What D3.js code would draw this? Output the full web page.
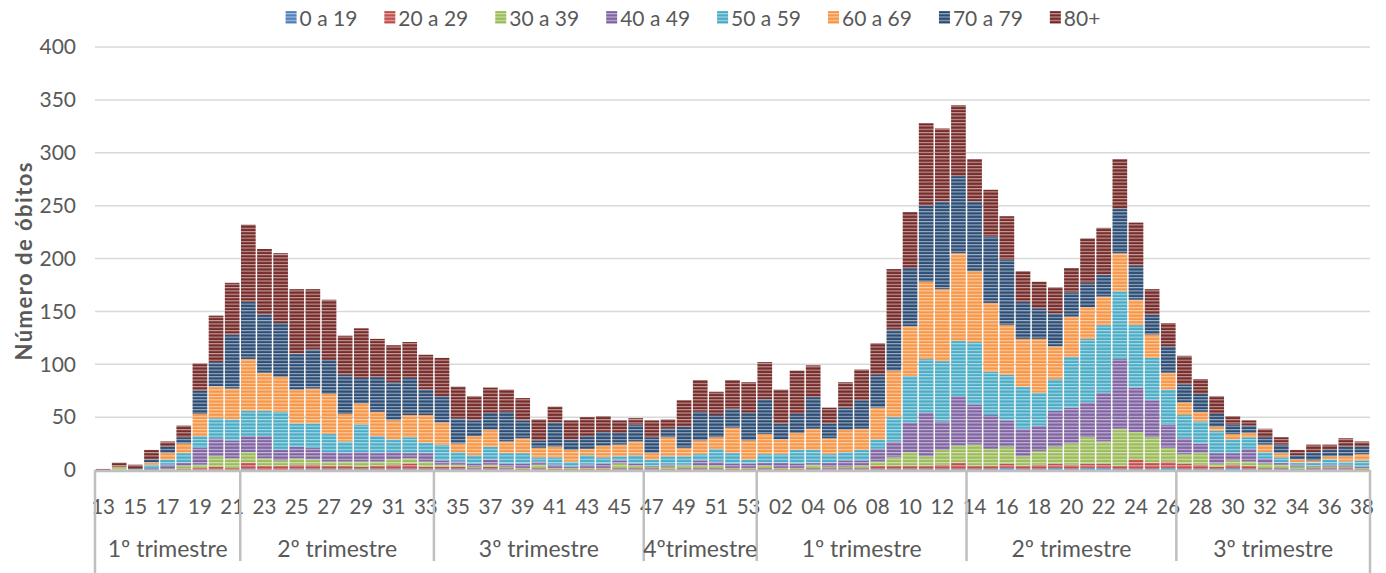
<!DOCTYPE html>
<html>
<head>
<meta charset="utf-8">
<script src="https://cdn.jsdelivr.net/npm/d3@7.9.0/dist/d3.min.js"></script>
<style>
  body { margin: 0; background: #fff; }
  svg { display: block; font-family: Lato, "Open Sans", sans-serif; }
</style>
</head>
<body>
<svg id="chart" width="1386" height="573"></svg>
<script>
// week categories (2020: 13..53, 2021: 01..38)
const weeks = ['13','14','15','16','17','18','19','20','21','22','23','24','25','26','27','28','29','30','31','32',
  '33','34','35','36','37','38','39','40','41','42','43','44','45','46','47','48','49','50','51','52','53',
  '01','02','03','04','05','06','07','08','09','10','11','12','13','14','15','16','17','18','19','20',
  '21','22','23','24','25','26','27','28','29','30','31','32','33','34','35','36','37','38'];

const quarterLabels = ['1º trimestre', '2º trimestre', '3º trimestre', '4ºtrimestre', '1º trimestre', '2º trimestre', '3º trimestre'];
const quarterSizes = [9, 12, 13, 7, 13, 13, 12];

const ageGroups = ['0 a 19', '20 a 29', '30 a 39', '40 a 49', '50 a 59', '60 a 69', '70 a 79', '80+'];
const colors = ['#4F81BD', '#C0504D', '#9BBB59', '#8064A2', '#4BACC6', '#F79646', '#2C4D75', '#772C2A'];

const age0to19 = [0,0,0,1,0,0,0,0,0,1, 0,0,1,1,1,1,1,1,1,1, 1,1,1,1,1,1,0,1,0,0, 0,0,1,1,1,0,1,1,1,0,
  0,1,0,0,1,1,1,1,1,1, 1,1,1,1,1,1,2,1,1,2, 1,2,2,1,1,1,2,1,1,1, 2,1,1,1,1,1,1,1,0];
const age20to29 = [0,0,0,0,0,1,2,3,2,6, 4,4,4,4,3,3,2,3,4,5, 2,2,2,1,2,1,1,1,1,1, 1,1,1,1,1,1,1,1,1,1,
  1,1,1,1,1,1,1,1,3,3, 3,3,4,6,3,3,4,3,4,4, 4,4,4,3,9,6,6,5,4,2, 3,3,1,1,0,1,1,1,1];
const age30to39 = [0,2,0,0,1,3,3,10,9,10, 7,5,6,5,4,4,5,4,5,5, 5,2,2,1,2,1,1,3,1,1, 1,1,4,2,1,2,2,2,2,1,
  1,2,1,1,3,1,1,2,4,8, 13,9,14,16,20,16,16,9,13,16, 20,25,21,35,26,24,13,9,11,3, 4,4,4,3,2,1,1,1,1];
const age40to49 = [0,0,0,1,4,3,16,17,17,15, 21,10,11,11,9,8,9,8,7,5, 8,4,3,3,5,3,4,3,3,1, 3,4,3,2,1,2,1,5,4,4,
  4,3,5,4,2,4,6,5,12,15, 28,41,27,47,38,32,25,26,24,34, 34,33,46,66,42,35,22,15,9,10, 7,12,5,2,2,1,2,2,1];
const age50to59 = [0,0,1,3,5,9,11,19,20,24, 24,36,22,23,17,11,26,16,12,15, 10,15,9,8,12,10,10,4,7,5, 9,6,4,8,6,8,8,6,12,10,
  4,8,8,13,12,8,8,10,9,23, 44,51,57,52,59,41,43,40,31,30, 48,60,64,64,59,40,33,22,21,21, 13,11,6,5,2,3,5,3,6];
const age60to69 = [0,1,0,2,6,9,21,30,29,49, 36,33,32,33,38,26,20,23,18,21, 26,21,8,18,16,11,14,9,10,11, 6,11,11,13,6,18,8,13,11,24,
  18,19,14,16,20,15,21,20,30,44, 47,73,68,83,67,65,47,45,51,31, 38,30,27,36,24,22,16,12,9,4, 5,4,7,4,3,2,3,5,6];
const age70to79 = [0,1,0,3,6,6,22,23,51,54, 55,51,34,37,32,37,24,33,36,35, 24,25,24,15,16,28,17,7,23,10, 12,13,11,16,15,8,20,27,21,18,
  26,33,15,18,30,14,21,27,31,39, 55,72,83,73,66,63,62,35,29,31, 23,23,21,42,32,19,25,17,17,12, 9,7,7,8,4,8,6,9,7];
const age80plus = [1,3,4,9,5,11,26,44,49,73, 62,66,61,57,57,37,47,36,35,34, 33,36,30,23,24,21,21,20,15,18, 18,15,12,6,16,9,25,30,22,27,
  29,35,32,41,30,15,24,29,30,57, 53,78,69,67,40,44,41,29,25,25, 23,42,44,47,41,24,22,27,14,17, 8,5,8,7,5,7,5,8,5];

const yTicks = [0, 50, 100, 150, 200, 250, 300, 350, 400];

const seriesValues = [age0to19, age20to29, age30to39, age40to49, age50to59, age60to69, age70to79, age80plus];
const table = weeks.map((w, i) => {
  const row = { idx: i, week: w };
  ageGroups.forEach((g, k) => { row[g] = seriesValues[k][i]; });
  return row;
});

const svg = d3.select('#chart');
const margin = { left: 95, right: 16, top: 47, bottom: 103 };
const W = 1386, H = 573;
const x0 = margin.left, x1 = W - margin.right;
const yBottom = H - margin.bottom;

const x = d3.scaleBand().domain(d3.range(weeks.length)).range([x0, x1]).paddingInner(0.09).paddingOuter(0.045);
const y = d3.scaleLinear().domain([0, 400]).range([yBottom, margin.top]);

// striped fills
const defs = svg.append('defs');
colors.forEach((c, i) => {
  const p = defs.append('pattern')
    .attr('id', 'pat' + i)
    .attr('patternUnits', 'userSpaceOnUse')
    .attr('width', 10).attr('height', 3.3);
  p.append('rect').attr('width', 10).attr('height', 3.3).attr('fill', c);
  p.append('rect').attr('width', 10).attr('height', 1.1).attr('fill', '#fff').attr('opacity', 0.55);
});

// gridlines
svg.append('g').selectAll('line').data(yTicks.slice(1)).join('line')
  .attr('x1', x0).attr('x2', x1)
  .attr('y1', d => y(d)).attr('y2', d => y(d))
  .attr('stroke', '#D9D9D9').attr('stroke-width', 1.5);

// y tick labels
svg.append('g').selectAll('text').data(yTicks).join('text')
  .attr('x', 76).attr('y', d => y(d)).attr('dy', '0.35em')
  .attr('text-anchor', 'end')
  .attr('fill', '#595959').attr('font-size', 21)
  .text(d => d);

svg.append('text')
  .attr('transform', `translate(32,${(margin.top + yBottom) / 2 + 3}) rotate(-90)`)
  .attr('text-anchor', 'middle')
  .attr('fill', '#595959').attr('font-size', 22).attr('font-weight', 'bold')
  .attr('textLength', 198).attr('lengthAdjust', 'spacing')
  .text('Número de óbitos');

// stacked bars
const stacked = d3.stack().keys(ageGroups)(table);
svg.append('g').selectAll('g').data(stacked).join('g')
  .attr('fill', (d, i) => `url(#pat${i})`)
  .selectAll('rect').data(d => d).join('rect')
  .attr('x', d => x(d.data.idx))
  .attr('width', x.bandwidth())
  .attr('y', d => y(d[1]))
  .attr('height', d => Math.max(0, y(d[0]) - y(d[1])));

// category axis
const edge = i => x0 + (x1 - x0) * i / weeks.length;
svg.append('line')
  .attr('x1', x0).attr('x2', x1).attr('y1', yBottom + 1).attr('y2', yBottom + 1)
  .attr('stroke', '#BFBFBF').attr('stroke-width', 2.5);

svg.append('g').selectAll('text').data(table.filter(d => d.idx % 2 === 0)).join('text')
  .attr('x', d => x(d.idx) + x.bandwidth() / 2)
  .attr('y', 514)
  .attr('text-anchor', 'middle')
  .attr('fill', '#595959').attr('font-size', 20.5)
  .text(d => d.week);

let start = 0;
const bounds = [0];
quarterSizes.forEach(n => { start += n; bounds.push(start); });

svg.append('g').selectAll('line').data(bounds).join('line')
  .attr('x1', b => edge(b)).attr('x2', b => edge(b))
  .attr('y1', yBottom).attr('y2', (b, i) => (i === 0 || i === bounds.length - 1) ? H : 561)
  .attr('stroke', '#BFBFBF').attr('stroke-width', 2.5);

svg.append('g').selectAll('text').data(quarterLabels).join('text')
  .attr('x', (d, i) => (edge(bounds[i]) + edge(bounds[i + 1])) / 2)
  .attr('y', 557)
  .attr('text-anchor', 'middle')
  .attr('fill', '#595959').attr('font-size', 23)
  .text(d => d);

// legend
const legend = svg.append('g');
const legendGap = 27;
let lx = 0;
ageGroups.forEach((g, i) => {
  const item = legend.append('g').attr('transform', `translate(${lx},0)`);
  item.append('rect').attr('x', 0).attr('y', 11).attr('width', 11).attr('height', 13)
    .attr('fill', `url(#pat${i})`);
  const t = item.append('text').attr('x', 14).attr('y', 26)
    .attr('fill', '#595959').attr('font-size', 21).text(g);
  lx += 14 + t.node().getComputedTextLength() + legendGap;
});
legend.attr('transform', `translate(${693 - (lx - legendGap) / 2},0)`);
</script>
</body>
</html>
